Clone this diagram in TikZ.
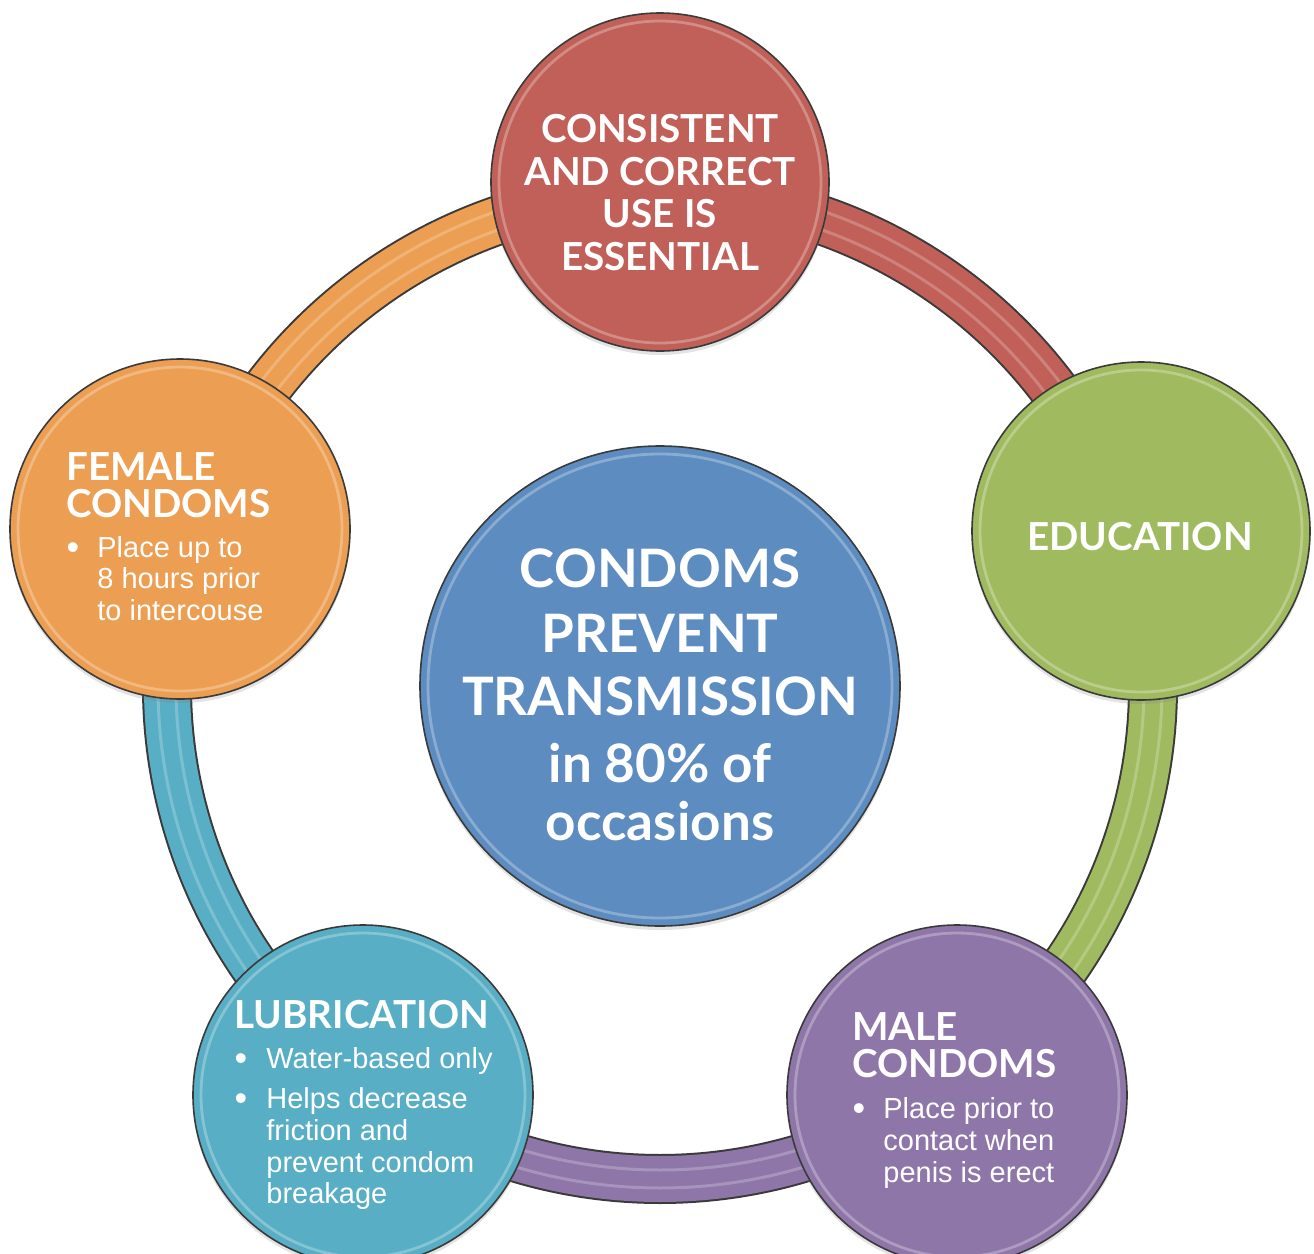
\documentclass[tikz,border=0pt]{standalone}
\usepackage{fontspec}
\setmainfont{Liberation Sans}
\newfontfamily\hf{Lato}
\usetikzlibrary{shadows}
\definecolor{cred}{HTML}{C06058}
\definecolor{cgreen}{HTML}{A0BA60}
\definecolor{cpurple}{HTML}{8E76A8}
\definecolor{cteal}{HTML}{58AEC4}
\definecolor{corange}{HTML}{EC9E52}
\definecolor{cblue}{HTML}{5D8CC0}
\definecolor{edge}{HTML}{3A3A3A}
\begin{document}
\begin{tikzpicture}[x=0.5pt,y=-0.5pt,
  bub/.style={circle, draw=edge, line width=0.8pt, inner sep=0pt, minimum size=#1,
    drop shadow={opacity=0.22, shadow xshift=0pt, shadow yshift=-2pt}},
  shine/.style={white, opacity=0.28, line width=1.4pt},
  head/.style={font=\hf\bfseries\fontsize{19.3}{21}\selectfont, text=white, inner sep=0pt},
  big/.style={font=\hf\bfseries\fontsize{26.5}{30}\selectfont, text=white, inner sep=0pt},
  body/.style={font=\fontsize{14.5}{16}\selectfont, text=white, inner sep=0pt},
  dot/.style={font=\fontsize{18}{18}\selectfont, text=white, inner sep=0pt, anchor=center},
]
\fill[white] (0,0) rectangle (1314,1254);
\useasboundingbox (0,0) rectangle (1314,1254);
\coordinate (O) at (660,686);
% ring segments
\foreach \a in {-90,-18,54,126,198}{
  \draw[line width=25pt, edge] (O) ++(\a:493) arc[start angle=\a, end angle=\a+72, radius=493];
}
\foreach \a/\c in {-90/cred,-18/cgreen,54/cpurple,126/cteal,198/corange}{
  \draw[line width=23pt, \c] (O) ++(\a:493) arc[start angle=\a, end angle=\a+72, radius=493];
  \draw[white, opacity=0.22, line width=1.5pt] (O) ++(\a:484) arc[start angle=\a, end angle=\a+72, radius=484];
  \draw[white, opacity=0.22, line width=1.5pt] (O) ++(\a:502) arc[start angle=\a, end angle=\a+72, radius=502];
}
% circles
\node[bub=169pt, fill=cred] (red) at (660,182) {};
\node[bub=169pt, fill=cgreen] (green) at (1141,531) {};
\node[bub=170pt, fill=cpurple] (purple) at (957,1095) {};
\node[bub=170pt, fill=cteal] (teal) at (363,1095) {};
\node[bub=170pt, fill=corange] (orange) at (180,529) {};
\node[bub=240pt, fill=cblue] (blue) at (660,686) {};
\foreach \n/\r in {red/161,green/161,purple/162,teal/162,orange/162,blue/232}{
  \draw[shine] (\n.center) circle[radius=\r];
}
% red text
\node[head, anchor=base] (r1) at (660,142) {CONSISTENT};
\node[head, anchor=base] (r2) at (660,185) {AND CORRECT};
\node[head, anchor=base] (r3) at (660,227) {USE IS};
\node[head, anchor=base] (r4) at (660,270) {ESSENTIAL};
% green text
\node[head, anchor=base] (g1) at (1140,550) {EDUCATION};
% orange text
\node[head, anchor=base west] (o1) at (66,480) {FEMALE};
\node[head, anchor=base west] (o2) at (66,517) {CONDOMS};
\node[dot] (ob1) at (73,551) {•};
\node[body, anchor=base west] (o3) at (97,557) {Place up to};
\node[body, anchor=base west] (o4) at (97,588) {8 hours prior};
\node[body, anchor=base west] (o5) at (97,620) {to intercouse};
% teal text
\node[head, anchor=base west] (t1) at (234,1028) {LUBRICATION};
\node[dot] (tb1) at (241,1062) {•};
\node[body, anchor=base west] (t2) at (266,1068) {Water-based only};
\node[dot] (tb2) at (241,1102) {•};
\node[body, anchor=base west] (t3) at (266,1108) {Helps decrease};
\node[body, anchor=base west] (t4) at (266,1140) {friction and};
\node[body, anchor=base west] (t5) at (266,1172) {prevent condom};
\node[body, anchor=base west] (t6) at (266,1203) {breakage};
% purple text
\node[head, anchor=base west] (p1) at (852,1040) {MALE};
\node[head, anchor=base west] (p2) at (852,1077) {CONDOMS};
\node[dot] (pb1) at (859,1112) {•};
\node[body, anchor=base west] (p3) at (883,1118) {Place prior to};
\node[body, anchor=base west] (p4) at (883,1150) {contact when};
\node[body, anchor=base west] (p5) at (883,1182) {penis is erect};
% center text
\node[big, anchor=base] (c1) at (660,587) {CONDOMS};
\node[big, anchor=base] (c2) at (660,652) {PREVENT};
\node[big, anchor=base] (c3) at (660,715) {TRANSMISSION};
\node[big, anchor=base] (c4) at (660,782) {in 80\% of};
\node[big, anchor=base] (c5) at (660,840) {occasions};
\end{tikzpicture}
\end{document}
